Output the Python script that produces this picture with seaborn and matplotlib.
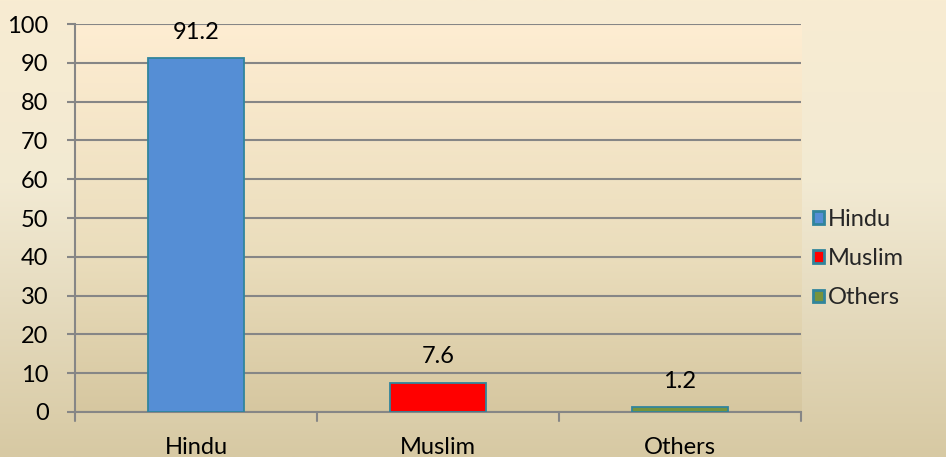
import numpy as np
import pandas as pd
import matplotlib
matplotlib.use("Agg")
import matplotlib.pyplot as plt
from matplotlib.colors import LinearSegmentedColormap
import seaborn as sns

categories = ["Hindu", "Muslim", "Others"]
values = [91.2, 7.6, 1.2]
bar_colors = ["#558ED5", "#FF0000", "#77933C"]
y_ticks = [0, 10, 20, 30, 40, 50, 60, 70, 80, 90, 100]

sns.set_theme(style="white")
plt.rcParams["font.family"] = ["Lato", "DejaVu Sans"]
FS = 17

df = pd.DataFrame({"religion": categories, "share": values})

fig = plt.figure(figsize=(9.46, 4.57), dpi=100)

# figure background: soft vertical gradient
bg = fig.add_axes([0, 0, 1, 1], zorder=-10)
bg_cmap = LinearSegmentedColormap.from_list(
    "bg", [(0.0, "#D7C9A3"), (0.35, "#E6DCC0"), (0.6, "#F2EAD3"), (1.0, "#F8ECD2")])
grad = np.linspace(0, 1, 256).reshape(-1, 1)
bg.imshow(grad, aspect="auto", cmap=bg_cmap, origin="lower", extent=[0, 1, 0, 1])
bg.set_axis_off()

ax = fig.add_axes([75 / 946, 45 / 457, 726 / 946, 388 / 457])
ax.set_facecolor("none")

# plot area gradient
pa_cmap = LinearSegmentedColormap.from_list(
    "pa", [(0.0, "#D6C7A0"), (0.4, "#EADDBC"), (1.0, "#FEEDD2")])
ax.imshow(grad, aspect="auto", cmap=pa_cmap, origin="lower",
          extent=[-0.5, 2.5, 0, 100], zorder=0)

sns.barplot(data=df, x="religion", y="share", hue="religion",
            palette=bar_colors, saturation=1, width=0.4, edgecolor="#31859C",
            linewidth=1.3, ax=ax, zorder=3, legend=True)

for cont in ax.containers:
    ax.bar_label(cont, labels=[f"{v:.1f}" for v in cont.datavalues],
                 padding=11, fontsize=FS, color="black")

ax.set_xlim(-0.5, 2.5)
ax.set_ylim(0, 100)
ax.set_yticks(y_ticks)
ax.set_xlabel("")
ax.set_ylabel("")
ax.grid(axis="y", color="#868686", linewidth=1.5, zorder=1)
ax.set_axisbelow(True)
for s in ["top", "right"]:
    ax.spines[s].set_visible(False)
for s in ["left", "bottom"]:
    ax.spines[s].set_color("#868686")
    ax.spines[s].set_linewidth(1.5)

ax.tick_params(axis="y", length=6, width=1.5, color="#868686",
               labelsize=FS, pad=13, left=True, labelcolor="black")
ax.set_xticks([0, 1, 2])
ax.set_xticklabels(categories)
ax.tick_params(axis="x", length=0, labelsize=FS, pad=18, labelcolor="black")
# category separators below the axis
for xb in [-0.5, 0.5, 1.5, 2.5]:
    ax.plot([xb, xb], [0, -2.2], color="#868686", lw=1.5,
            clip_on=False, zorder=2)

leg = ax.legend(loc="center left", bbox_to_anchor=(1.0165, 0.395), frameon=False,
                fontsize=FS, handlelength=0.45, handleheight=0.45,
                handletextpad=0.2, labelspacing=0.77, borderaxespad=0,
                borderpad=0)
for h in leg.legend_handles:
    h.set_linewidth(2)

fig.savefig("out.png", dpi=100)
